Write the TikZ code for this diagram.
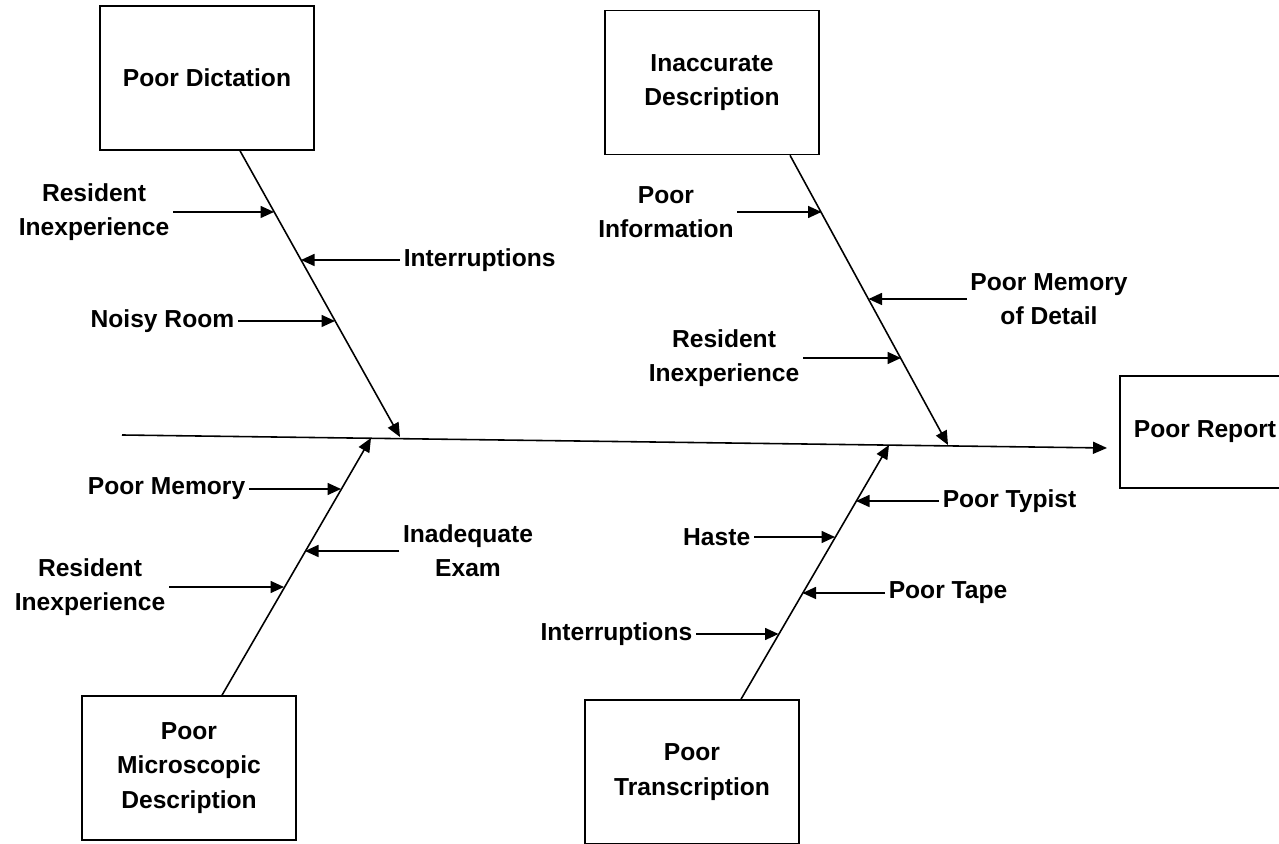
\documentclass[tikz,border=0pt]{standalone}
\usepackage{fontspec}
\setmainfont{Liberation Sans}
\usepackage{tikz}
\usetikzlibrary{arrows.meta}

\begin{document}
\begin{tikzpicture}[line width=0.9pt,
        box_style/.style={rectangle,draw=black,minimum width=4.28cm,minimum height=2.88cm,align=center,font=\fontsize{14}{19.5}\selectfont\bfseries},
        cause_style/.style={inner sep=0.06cm,align=center,font=\fontsize{14}{19.5}\selectfont\bfseries},
        bone_style/.style={draw=black, line width=0.9pt,-{Triangle[length=0.28cm,width=0.24cm]}},
        rib_style/.style={draw=black, line width=0.9pt,-{Triangle[length=0.27cm,width=0.24cm]}}]

        \useasboundingbox (0,0) rectangle (25.58,16.86);
        \clip (0,0) rectangle (25.58,16.86);

        \node [box_style](dict) at (4.14,15.30) {Poor Dictation};

        \node [box_style](inacc) at (14.24,15.21) {Inaccurate\\Description};

        \node [box_style](micro) at (3.78,1.50) {Poor\\Microscopic\\Description};

        \node [box_style](trans) at (13.84,1.42) {Poor\\Transcription};

        \node [box_style,minimum width=3.40cm,minimum height=2.24cm](report) at (24.10,8.22) {Poor Report};

        % spine and where the bones meet it
        \coordinate (tail) at (2.44,8.16);
        \coordinate (head) at (22.14,7.90);
        \coordinate (j1) at (8.00,8.12);
        \coordinate (j2) at (18.96,7.96);
        \coordinate (j3) at (7.42,8.10);
        \coordinate (j4) at (17.78,7.96);

        % causes
        \node [cause_style](c11) at (1.88,12.62) {Resident\\Inexperience};

        \node [cause_style,anchor=west](c12) at (8.00,11.66) {Interruptions};

        \node [cause_style,anchor=east](c13) at (4.76,10.44) {Noisy Room};

        \node [cause_style](c21) at (13.32,12.62) {Poor\\Information};

        \node [cause_style](c22) at (20.98,10.88) {Poor Memory\\of Detail};

        \node [cause_style](c23) at (14.48,9.70) {Resident\\Inexperience};

        \node [cause_style,anchor=east](c31) at (4.98,7.08) {Poor Memory};

        \node [cause_style](c32) at (9.36,5.84) {Inadequate\\Exam};

        \node [cause_style](c33) at (1.80,5.12) {Resident\\Inexperience};

        \node [cause_style,anchor=west](c41) at (18.78,6.84) {Poor Typist};

        \node [cause_style,anchor=east](c42) at (15.08,6.12) {Haste};

        \node [cause_style,anchor=west](c43) at (17.70,5.00) {Poor Tape};

        \node [cause_style,anchor=east](c44) at (13.92,4.18) {Interruptions};

        % rib tips on the bones
        \coordinate (t11) at (5.48,12.62);
        \coordinate (t12) at (6.02,11.66);
        \coordinate (t13) at (6.70,10.44);
        \coordinate (t21) at (16.43,12.62);
        \coordinate (t22) at (17.37,10.88);
        \coordinate (t23) at (18.02,9.70);
        \coordinate (t31) at (6.82,7.08);
        \coordinate (t32) at (6.10,5.84);
        \coordinate (t33) at (5.68,5.12);
        \coordinate (t41) at (17.12,6.84);
        \coordinate (t42) at (16.70,6.12);
        \coordinate (t43) at (16.05,5.00);
        \coordinate (t44) at (15.57,4.18);

        \draw [bone_style] (tail) -- (head);

        \draw [bone_style] ([xshift=0.66cm]dict.south) -- (j1);

        \draw [bone_style] ([xshift=1.56cm]inacc.south) -- (j2);

        \draw [bone_style] ([xshift=0.66cm]micro.north) -- (j3);

        \draw [bone_style] ([xshift=0.98cm]trans.north) -- (j4);

        \draw [rib_style] (c11) -- (t11);

        \draw [rib_style] (c12) -- (t12);

        \draw [rib_style] (c13) -- (t13);

        \draw [rib_style] (c21) -- (t21);

        \draw [rib_style] (c22) -- (t22);

        \draw [rib_style] (c23) -- (t23);

        \draw [rib_style] (c31) -- (t31);

        \draw [rib_style] (c32) -- (t32);

        \draw [rib_style] (c33) -- (t33);

        \draw [rib_style] (c41) -- (t41);

        \draw [rib_style] (c42) -- (t42);

        \draw [rib_style] (c43) -- (t43);

        \draw [rib_style] (c44) -- (t44);

        \end{tikzpicture}
\end{document}
